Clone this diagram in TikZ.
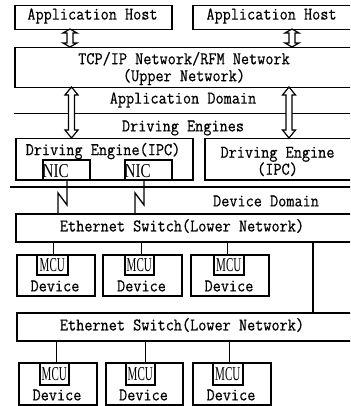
\documentclass[tikz,border=0pt]{standalone}
\usepackage{fontspec}
\newfontfamily\tfont{Liberation Serif}
\newfontfamily\mfont[FakeBold=0.5]{Latin Modern Mono}
\newcommand\dblarrow[6]{%
  \draw[hollowarr] (#1,#2) -- ({#1+#5},{#2+#6}) -- ({#1+#4},{#2+#6}) -- ({#1+#4},{#3-#6}) -- ({#1+#5},{#3-#6}) -- (#1,#3)
    -- ({#1-#5},{#3-#6}) -- ({#1-#4},{#3-#6}) -- ({#1-#4},{#2+#6}) -- ({#1-#5},{#2+#6}) -- cycle;}
\newcommand\mcutext{\scalebox{0.56}[1]{\tfont\fontsize{19.7}{20}\selectfont MCU}}
\newcommand\tx[1]{\scalebox{1}[1.13]{#1}}
\begin{document}
\begin{tikzpicture}[x=1pt,y=-1pt,
  every node/.style={font=\fontsize{15.8}{17}\selectfont\mfont},
  box/.style={draw, line width=1.5pt, inner sep=0pt, anchor=north west},
  lbl/.style={inner sep=0pt},
  sepline/.style={line width=1pt},
  thicksep/.style={line width=1.7pt},
  conn/.style={line width=1.3pt},
  hollowarr/.style={draw, fill=white, line width=1.2pt, line join=miter},
  mcubox/.style={draw, line width=1.6pt, inner sep=0pt, anchor=north west}]
\useasboundingbox (0,0) rectangle (350,406);
\clip (0,0) rectangle (350,406);
% hosts
\node[box, minimum width=157, minimum height=24] (host1) at (14,5) {};
\node[lbl] (host1t) at (92.5,16) {\tx{Application Host}};
\node[box, minimum width=170, minimum height=24] (host2) at (192,5) {};
\node[lbl] (host2t) at (271.5,16) {\tx{Application Host}};
% upper network
\node[box, minimum width=350, minimum height=40] (tcp) at (14,47) {};
\node[lbl, align=center] (tcpt) at (184,68.5) {\tx{TCP/IP Network/RFM Network}\\\tx{(Upper Network)}};
\dblarrow{70}{29}{47}{3}{7}{4}
\dblarrow{292}{29}{47}{3}{7}{4}
% application domain
\coordinate (adl) at (14,114);
\coordinate (adr) at (360,114);
\draw[sepline] (adl) -- (adr);
\node[lbl] (appdom) at (183,100) {\tx{Application Domain}};
\node[lbl] (drveng) at (183,128) {\tx{Driving Engines}};
\dblarrow{71.5}{87}{138}{3}{6.5}{8}
\dblarrow{289}{87}{138}{3}{6.5}{8}
% driving engines
\node[box, minimum width=177, minimum height=41] (de1) at (15,138) {};
\node[lbl] (de1t) at (103,151) {\tx{Driving Engine(IPC)}};
\node[box, minimum width=156, minimum height=41] (de2) at (204,138) {};
\node[lbl, align=center] (de2t) at (277.5,161.5) {\tx{Driving Engine}\\\tx{(IPC)}};
\node[box, minimum width=47, minimum height=20] (nic1) at (42,159) {};
\node[box, minimum width=47, minimum height=20] (nic2) at (124,159) {};
\node[lbl, anchor=base west] (nic1t) at (42.5,177.5) {\scalebox{0.77}[1]{\tfont\fontsize{19.7}{20}\selectfont NIC}};
\node[lbl, anchor=base west] (nic2t) at (124.5,177.5) {\scalebox{0.77}[1]{\tfont\fontsize{19.7}{20}\selectfont NIC}};
% separator
\coordinate (sepl) at (10,187);
\coordinate (sepr) at (360,187);
\draw[thicksep] (sepl) -- (sepr);
\node[lbl] (devdom) at (266,201) {\tx{Device Domain}};
% switch 1
\node[box, minimum width=350, minimum height=28] (sw1) at (15,213) {};
\node[lbl] (sw1t) at (182,226) {\tx{Ethernet Switch(Lower Network)}};
\draw[conn] (nic1.south -| 67,0) -- (67,205) -- (58,193) -- (58,213);
\draw[conn] (nic2.south -| 144,0) -- (144,205) -- (135,193) -- (135,213);
% row 1 devices
\node[box, minimum width=78, minimum height=41] (d11) at (16,254) {};
\node[box, minimum width=79, minimum height=41] (d12) at (102,254) {};
\node[box, minimum width=78, minimum height=41] (d13) at (190,254) {};
\node[mcubox, minimum width=31, minimum height=20] (m11) at (36,254) {\mcutext};
\node[mcubox, minimum width=29, minimum height=20] (m12) at (124,254) {\mcutext};
\node[mcubox, minimum width=30, minimum height=20] (m13) at (213,254) {\mcutext};
\node[lbl] (d11t) at (55,286) {\tx{Device}};
\node[lbl] (d12t) at (141.5,286) {\tx{Device}};
\node[lbl] (d13t) at (229,286) {\tx{Device}};
\draw[conn] ([xshift=1.5pt]m11.north) -- ([xshift=1.5pt]m11.north |- sw1.south);
\draw[conn] ([xshift=2.5pt]m12.north) -- ([xshift=2.5pt]m12.north |- sw1.south);
\draw[conn] ([xshift=-1pt]m13.north) -- ([xshift=-1pt]m13.north |- sw1.south);
% switch 2
\node[box, minimum width=350, minimum height=28] (sw2) at (16,312) {};
\node[lbl] (sw2t) at (182,325) {\tx{Ethernet Switch(Lower Network)}};
\draw[conn] (sw1.south -| 313,0) -- (sw2.north -| 313,0);
% row 2 devices
\node[box, minimum width=78, minimum height=42] (d21) at (18,362) {};
\node[box, minimum width=77, minimum height=42] (d22) at (105,362) {};
\node[box, minimum width=78, minimum height=42] (d23) at (192,362) {};
\node[mcubox, minimum width=29, minimum height=22] (m21) at (39,362) {\mcutext};
\node[mcubox, minimum width=29, minimum height=22] (m22) at (125,362) {\mcutext};
\node[mcubox, minimum width=30, minimum height=22] (m23) at (212,362) {\mcutext};
\node[lbl] (d21t) at (57,395) {\tx{Device}};
\node[lbl] (d22t) at (143.5,395) {\tx{Device}};
\node[lbl] (d23t) at (231,395) {\tx{Device}};
\draw[conn] ([xshift=2.5pt]m21.north) -- ([xshift=2.5pt]m21.north |- sw2.south);
\draw[conn] ([xshift=5.5pt]m22.north) -- ([xshift=5.5pt]m22.north |- sw2.south);
\draw[conn] ([xshift=2pt]m23.north) -- ([xshift=2pt]m23.north |- sw2.south);
\end{tikzpicture}
\end{document}
